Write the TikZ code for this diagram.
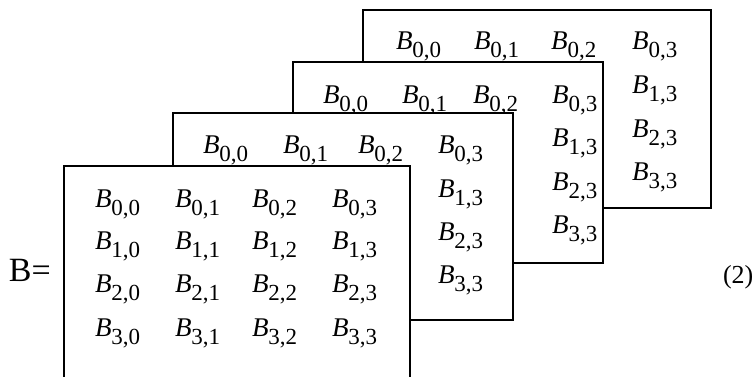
\documentclass[tikz,border=0pt]{standalone}
\usepackage{fontspec}
\setmainfont{Liberation Serif}
\newcommand\Bsub[1]{{\fontsize{27}{27}\selectfont\itshape B}\raisebox{-8pt}{\fontsize{23}{23}\selectfont #1}}
\begin{document}
\begin{tikzpicture}[x=1pt,y=-1pt,
  box/.style={draw, line width=2.8pt, fill=white, rectangle, inner sep=0pt, outer sep=0pt, anchor=north west},
  el/.style={anchor=base west, inner sep=0pt, outer sep=0pt}]
\useasboundingbox (0,0) rectangle (752,376);
\clip (0,0) rectangle (752,376);
% back box (4)
\node[box, minimum width=348pt, minimum height=198pt] (box4) at (363,10) {};
\foreach \c/\x in {0/396,1/474,2/551,3/632}
  \node[el] (d0\c) at (\x,49) {\Bsub{0,\c}};
\foreach \r/\y in {1/93,2/137,3/180}
  \node[el] (d\r3) at (632,\y) {\Bsub{\r,3}};
% box 3
\node[box, minimum width=310pt, minimum height=201pt] (box3) at (293,62) {};
\foreach \c/\x in {0/323,1/402,2/473,3/552}
  \node[el] (c0\c) at (\x,103) {\Bsub{0,\c}};
\foreach \r/\y in {1/146,2/190,3/233}
  \node[el] (c\r3) at (552,\y) {\Bsub{\r,3}};
% box 2
\node[box, minimum width=340pt, minimum height=207pt] (box2) at (173,113) {};
\foreach \c/\x in {0/203,1/283,2/358,3/438}
  \node[el] (b0\c) at (\x,153) {\Bsub{0,\c}};
\foreach \r/\y in {1/197,2/240,3/283}
  \node[el] (b\r3) at (438,\y) {\Bsub{\r,3}};
% front box 1
\node[box, minimum width=346pt, minimum height=240pt] (box1) at (64,166) {};
\foreach \r/\y in {0/207,1/249,2/292,3/336}
  \foreach \c/\x in {0/95,1/175,2/252,3/332}
    \node[el] (a\r\c) at (\x,\y) {\Bsub{\r,\c}};
% labels
\node[el, font=\fontsize{34}{34}\selectfont] (lhs) at (9,281) {B=};
\node[el, font=\fontsize{26}{26}\selectfont] (eqn) at (723,283) {(2)};
\end{tikzpicture}
\end{document}
